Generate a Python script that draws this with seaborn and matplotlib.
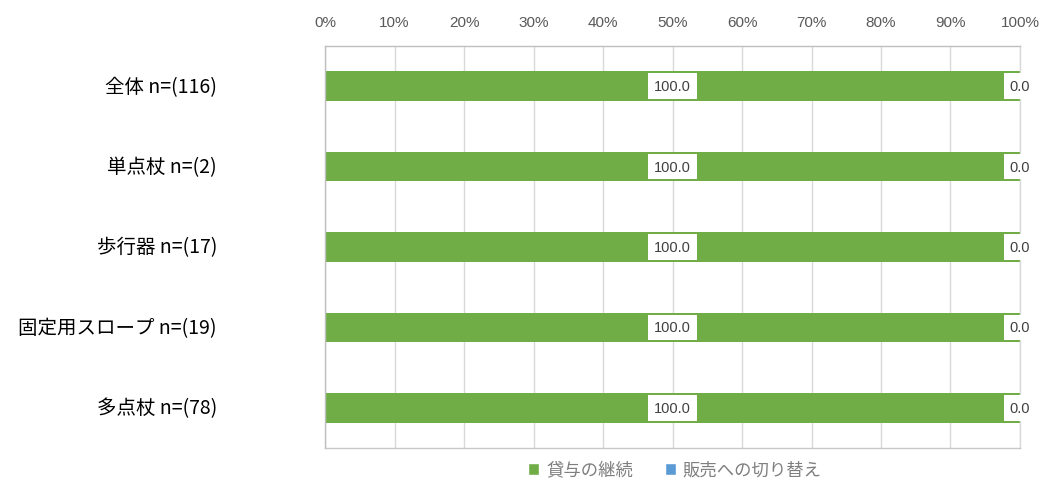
import pandas as pd
import numpy as np
import matplotlib.pyplot as plt
import seaborn as sns
from matplotlib.ticker import FuncFormatter
from matplotlib.patches import Patch

# Chart data
categories = ['全体 n=(116)', '単点杖 n=(2)', '歩行器 n=(17)', '固定用スロープ n=(19)', '多点杖 n=(78)']
series_names = ['貸与の継続', '販売への切り替え']
continue_values = [100.0, 100.0, 100.0, 100.0, 100.0]
switch_values = [0.0, 0.0, 0.0, 0.0, 0.0]

GREEN = '#70AD47'
BLUE = '#5B9BD5'
GREY_TEXT = '#595959'
NUM_FONT = ['Liberation Sans', 'DejaVu Sans']

sns.set_style('white')
plt.rcParams['font.family'] = ['Noto Sans CJK JP', 'DejaVu Sans']

df = pd.DataFrame({'category': categories, 'continue': continue_values, 'switch': switch_values})

fig = plt.figure(figsize=(10.43, 4.81), dpi=100)
ax = fig.add_axes([325 / 1043, 1 - 449 / 481, (1020 - 325) / 1043, (449 - 47) / 481])

bar_h = 0.37
sns.barplot(data=df, y='category', x='continue', color=GREEN, orient='h',
            width=bar_h, ax=ax, saturation=1, edgecolor='none')
ax.barh(np.arange(len(categories)), df['switch'], left=df['continue'],
        height=bar_h, color=BLUE, edgecolor='none')

ax.set_xlim(0, 100)
ax.set_ylim(len(categories) - 0.5, -0.5)
ax.set_xticks(np.arange(0, 101, 10))
ax.xaxis.set_major_formatter(FuncFormatter(lambda x, pos: f"{x:.0f}%"))
ax.xaxis.tick_top()
ax.tick_params(axis='x', length=0, pad=12, labelsize=11, labelcolor=GREY_TEXT)
for lbl in ax.get_xticklabels():
    lbl.set_family(NUM_FONT)
ax.set_xlabel('')
ax.set_ylabel('')
ax.grid(axis='x', color='#D9D9D9', linewidth=1)
ax.set_axisbelow(True)
for s in ax.spines.values():
    s.set_color('#D9D9D9')
    s.set_linewidth(1)
ax.spines['left'].set_color('#BFBFBF')
ax.spines['top'].set_color('#BFBFBF')
ax.spines['bottom'].set_color('#C8C8C8')

# category labels placed to the left, right aligned
ax.set_yticks([])
for i, cat in enumerate(categories):
    ax.annotate(cat, xy=(0, i), xycoords=('axes fraction', 'data'),
                xytext=(-108, 0), textcoords='offset pixels',
                ha='right', va='center', fontsize=14, fontweight='normal',
                color='#000000')

# value labels
box = dict(facecolor='white', edgecolor='none', boxstyle='square,pad=0.4')
for i in range(len(categories)):
    c = continue_values[i]
    ax.text(c / 2, i, f"{c:.1f}", ha='center', va='center', fontsize=10.5,
            color='#404040', family=NUM_FONT, bbox=box)
    s = switch_values[i]
    ax.text(c + s, i, f"{s:.1f}", ha='center', va='center', fontsize=10.5,
            color='#404040', family=NUM_FONT, bbox=box, clip_on=False)

handles = [Patch(facecolor=GREEN, label=series_names[0]),
           Patch(facecolor=BLUE, label=series_names[1])]
fig.legend(handles=handles, loc='center', bbox_to_anchor=(675 / 1043, 1 - 471 / 481),
           ncol=2, frameon=False, fontsize=12.5, labelcolor='#7F7F7F',
           handlelength=0.65, handleheight=0.65, handletextpad=0.4, columnspacing=1.8)

plt.savefig('out.png', dpi=100)
